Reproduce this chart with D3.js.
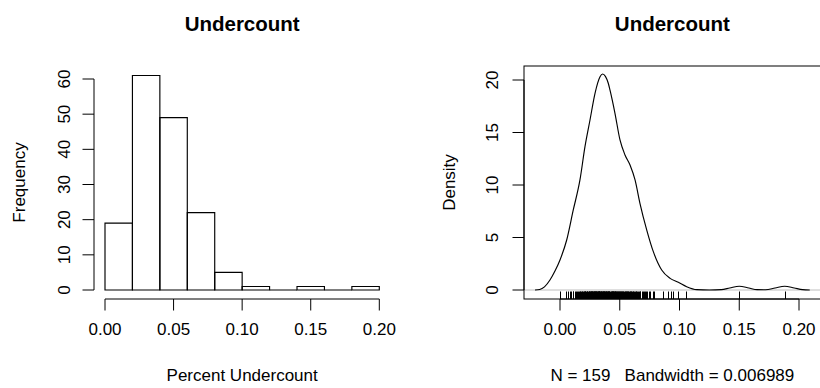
<!DOCTYPE html>
<html>
<head>
<meta charset="utf-8">
<script src="https://cdn.jsdelivr.net/npm/d3@7"></script>
<style>
  html, body { margin: 0; padding: 0; background: #fff; }
  svg { display: block; }
  text { font-family: "Liberation Sans", Arial, Helvetica, sans-serif; fill: #000; }
</style>
</head>
<body>
<svg id="chart" width="820" height="388"></svg>
<script>
// Histogram of percent undercount: break points and counts per bin
const breaks = [0, 0.02, 0.04, 0.06, 0.08, 0.10, 0.12, 0.14, 0.16, 0.18, 0.20];
const freq = [19, 61, 49, 22, 5, 1, 0, 1, 0, 1];

// Individual observations (rug under the density curve)
const undercount = [
  0.0000, 0.0049, 0.0068, 0.0081, 0.0090, 0.0107, 0.0112, 0.0126, 0.0133, 0.0144,
  0.0149, 0.0157, 0.0166, 0.0169, 0.0174, 0.0183, 0.0188, 0.0191, 0.0199,
  0.0201, 0.0206, 0.0210, 0.0213, 0.0218, 0.0224, 0.0227, 0.0229, 0.0236, 0.0239,
  0.0243, 0.0246, 0.0248,
  0.0251, 0.0256, 0.0257, 0.0262, 0.0265, 0.0266, 0.0271, 0.0274, 0.0277, 0.0281,
  0.0283, 0.0286, 0.0289, 0.0292, 0.0295, 0.0298,
  0.0302, 0.0303, 0.0308, 0.0311, 0.0314, 0.0317, 0.0318, 0.0323, 0.0326, 0.0329,
  0.0330, 0.0335, 0.0338, 0.0341, 0.0344, 0.0347,
  0.0352, 0.0353, 0.0358, 0.0361, 0.0362, 0.0367, 0.0370, 0.0371, 0.0376, 0.0379,
  0.0382, 0.0385, 0.0388, 0.0391, 0.0395, 0.0399,
  0.0402, 0.0405, 0.0409, 0.0412, 0.0414, 0.0419, 0.0423, 0.0426, 0.0431, 0.0433,
  0.0437, 0.0441, 0.0444, 0.0446, 0.0449,
  0.0453, 0.0457, 0.0461, 0.0464, 0.0468, 0.0472, 0.0475, 0.0479, 0.0483, 0.0486,
  0.0491, 0.0494, 0.0498,
  0.0503, 0.0507, 0.0512, 0.0516, 0.0521, 0.0525, 0.0531, 0.0536, 0.0540, 0.0545, 0.0549,
  0.0554, 0.0558, 0.0563, 0.0567, 0.0572, 0.0578, 0.0583, 0.0587, 0.0592, 0.0597,
  0.0604, 0.0609, 0.0613, 0.0618, 0.0626, 0.0633, 0.0639, 0.0646,
  0.0652, 0.0659, 0.0666, 0.0673, 0.0684, 0.0697,
  0.0703, 0.0711, 0.0718, 0.0726, 0.0747,
  0.0755, 0.0776, 0.0789,
  0.0864, 0.0906, 0.0929, 0.0948, 0.0990,
  0.1051, 0.1500, 0.1880
];

// Kernel density estimate (x, density), bandwidth 0.006989
const densityX = [
  -0.0209, -0.0170, -0.0130, -0.0084, -0.0040, 0.0000, 0.0056, 0.0111, 0.0167, 0.0209,
  0.0251, 0.0293, 0.0335, 0.0357, 0.0380, 0.0404, 0.0418, 0.0460, 0.0502, 0.0544,
  0.0586, 0.0628, 0.0669, 0.0726, 0.0781, 0.0851, 0.0921, 0.0990, 0.1060, 0.1144,
  0.1250, 0.1350, 0.1420, 0.1500, 0.1580, 0.1650, 0.1720, 0.1800, 0.1880, 0.1960,
  0.2030, 0.2090
];
const densityY = [
  0.00, 0.05, 0.30, 0.95, 1.85, 2.86, 4.76, 7.62, 10.48, 13.65,
  16.19, 18.73, 20.31, 20.57, 20.35, 19.69, 19.05, 16.83, 14.29, 12.86,
  11.90, 10.48, 8.26, 5.71, 3.65, 1.90, 1.11, 0.73, 0.31, 0.03,
  0.00, 0.04, 0.19, 0.36, 0.19, 0.03, 0.02, 0.19, 0.36, 0.19,
  0.03, 0.00
];

const histTicksX = [0, 0.05, 0.10, 0.15, 0.20];
const histTicksY = [0, 10, 20, 30, 40, 50, 60];
const densTicksX = [0, 0.05, 0.10, 0.15, 0.20];
const densTicksY = [0, 5, 10, 15, 20];

const svg = d3.select("#chart");
const FS = 17;       // axis text size
const TICK = 11.5;   // tick length
const plotTop = 66, plotBottom = 299;

// ---------- helpers ----------
function yAxisLeft(g, scale, ticks, x, labelX) {
  g.append("line")
    .attr("x1", x).attr("x2", x)
    .attr("y1", scale(ticks[0])).attr("y2", scale(ticks[ticks.length - 1]))
    .attr("stroke", "#000");
  ticks.forEach(t => {
    g.append("line")
      .attr("x1", x).attr("x2", x - TICK)
      .attr("y1", scale(t)).attr("y2", scale(t))
      .attr("stroke", "#000");
    g.append("text")
      .attr("transform", `translate(${labelX},${scale(t)}) rotate(-90)`)
      .attr("text-anchor", "middle")
      .style("font-size", FS + "px")
      .text(String(t));
  });
}

function xAxisBottom(g, scale, ticks, y, fmt) {
  g.append("line")
    .attr("x1", scale(ticks[0])).attr("x2", scale(ticks[ticks.length - 1]))
    .attr("y1", y).attr("y2", y)
    .attr("stroke", "#000");
  ticks.forEach(t => {
    g.append("line")
      .attr("x1", scale(t)).attr("x2", scale(t))
      .attr("y1", y).attr("y2", y + TICK)
      .attr("stroke", "#000");
    g.append("text")
      .attr("x", scale(t)).attr("y", 335)
      .attr("text-anchor", "middle")
      .style("font-size", FS + "px")
      .text(fmt(t));
  });
}

const fmt2 = d3.format(".2f");

// ---------- left panel: histogram ----------
const hL = 94, hR = 390.3;
const xH = d3.scaleLinear().domain([0, 0.2]).range([105, 379.3]);
const yH = d3.scaleLinear().domain([0, 60]).range([290, 79]);
const gH = svg.append("g");

gH.selectAll("path.bar")
  .data(freq)
  .enter().append("path")
  .attr("class", "bar")
  .attr("d", (d, i) => {
    const x0 = xH(breaks[i]), x1 = xH(breaks[i + 1]);
    const y0 = yH(0), y1 = yH(d);
    return `M${x0},${y0}H${x1}V${y1}H${x0}Z`;
  })
  .attr("fill", "none")
  .attr("stroke", "#000")
  .attr("stroke-width", 1.15);

yAxisLeft(gH, yH, histTicksY, hL, 70);
xAxisBottom(gH, xH, histTicksX, plotBottom, fmt2);

gH.append("text")
  .attr("x", (hL + hR) / 2).attr("y", 30.5)
  .attr("text-anchor", "middle")
  .style("font-size", "20.5px").style("font-weight", "bold")
  .text("Undercount");
gH.append("text")
  .attr("x", (hL + hR) / 2).attr("y", 381)
  .attr("text-anchor", "middle")
  .style("font-size", FS + "px")
  .text("Percent Undercount");
gH.append("text")
  .attr("transform", `translate(25,${(plotTop + plotBottom) / 2}) rotate(-90)`)
  .attr("text-anchor", "middle")
  .style("font-size", FS + "px")
  .text("Frequency");

// ---------- right panel: density ----------
const dL = 524, dR = 820.7;
const xD = d3.scaleLinear().domain([0, 0.2]).range([560, 799]);
const yD = d3.scaleLinear().domain([0, 20]).range([290, 80]);
const gD = svg.append("g");

// zero reference line
gD.append("line")
  .attr("x1", dL).attr("x2", dR)
  .attr("y1", yD(0)).attr("y2", yD(0))
  .attr("stroke", "#bebebe");

// rug of observations along the bottom of the plot region, snapped to pixel centres
gD.selectAll("line.rug")
  .data(undercount)
  .enter().append("line")
  .attr("class", "rug")
  .attr("x1", d => Math.round(xD(d)) + 0.5).attr("x2", d => Math.round(xD(d)) + 0.5)
  .attr("y1", plotBottom).attr("y2", plotBottom - 7.5)
  .attr("stroke", "#000")
  .attr("stroke-width", 1);

const pts = densityX.map((x, i) => [x, densityY[i]]);
gD.append("path")
  .datum(pts)
  .attr("d", d3.line().x(d => xD(d[0])).y(d => yD(d[1])).curve(d3.curveMonotoneX))
  .attr("fill", "none")
  .attr("stroke", "#000")
  .attr("stroke-width", 1.15);

// plot frame
gD.append("rect")
  .attr("x", dL).attr("y", plotTop)
  .attr("width", dR - dL).attr("height", plotBottom - plotTop)
  .attr("fill", "none").attr("stroke", "#000");

yAxisLeft(gD, yD, densTicksY, dL, 498);
xAxisBottom(gD, xD, densTicksX, plotBottom, fmt2);

gD.append("text")
  .attr("x", (dL + dR) / 2).attr("y", 30.5)
  .attr("text-anchor", "middle")
  .style("font-size", "20.5px").style("font-weight", "bold")
  .text("Undercount");
gD.append("text")
  .attr("x", (dL + dR) / 2).attr("y", 381)
  .attr("text-anchor", "middle")
  .style("font-size", FS + "px")
  .style("white-space", "pre")
  .text(`N = ${undercount.length}   Bandwidth = 0.006989`);
gD.append("text")
  .attr("transform", `translate(455,${(plotTop + plotBottom) / 2}) rotate(-90)`)
  .attr("text-anchor", "middle")
  .style("font-size", FS + "px")
  .text("Density");
</script>
</body>
</html>
